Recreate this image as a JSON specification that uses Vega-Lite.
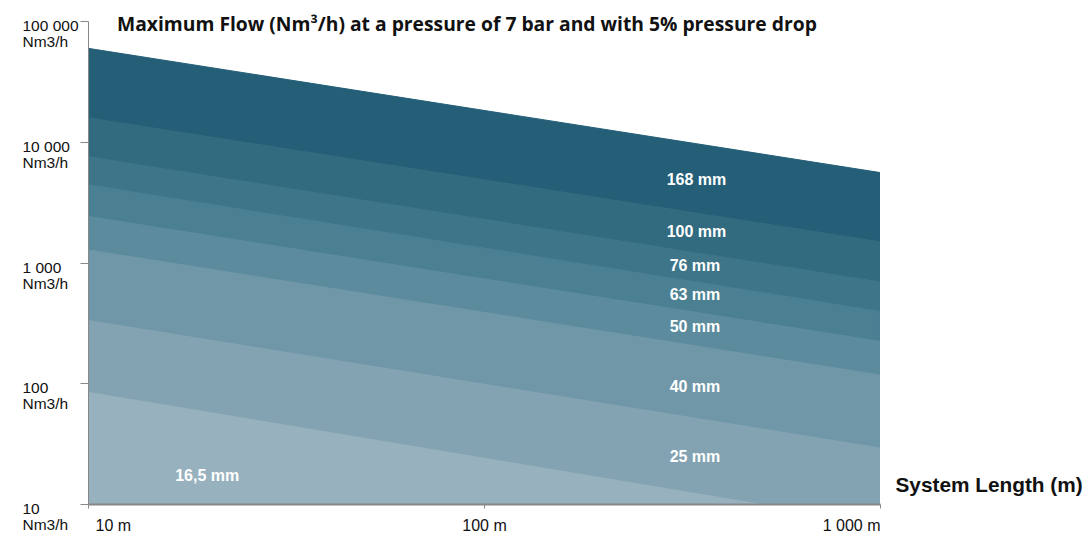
{
  "$schema": "https://vega.github.io/schema/vega-lite/v6.json",
  "autosize": {"type": "none"},
  "padding": {"left": 88, "top": 21, "right": 207, "bottom": 29},
  "width": 792,
  "height": 483,
  "background": "white",
  "view": {"stroke": null},
  "title": {
    "text": "Maximum Flow (Nm³/h) at a pressure of 7 bar and with 5% pressure drop",
    "anchor": "start",
    "frame": "group",
    "font": "Open Sans",
    "fontWeight": "bold",
    "fontSize": 19.3,
    "color": "#111111",
    "baseline": "alphabetic",
    "offset": 0,
    "dx": 29,
    "dy": 32
  },
  "datasets": {
    "bands": [
      {"size": "168 mm", "len": 10, "top": 59400, "bottom": 15780},
      {"size": "168 mm", "len": 1000, "top": 5560, "bottom": 1483},
      {"size": "100 mm", "len": 10, "top": 15780, "bottom": 7500},
      {"size": "100 mm", "len": 1000, "top": 1483, "bottom": 690},
      {"size": "76 mm", "len": 10, "top": 7500, "bottom": 4395},
      {"size": "76 mm", "len": 1000, "top": 690, "bottom": 393},
      {"size": "63 mm", "len": 10, "top": 4395, "bottom": 2410},
      {"size": "63 mm", "len": 1000, "top": 393, "bottom": 222},
      {"size": "50 mm", "len": 10, "top": 2410, "bottom": 1271},
      {"size": "50 mm", "len": 1000, "top": 222, "bottom": 117},
      {"size": "40 mm", "len": 10, "top": 1271, "bottom": 331},
      {"size": "40 mm", "len": 1000, "top": 117, "bottom": 29.1},
      {"size": "25 mm", "len": 10, "top": 331, "bottom": 84},
      {"size": "25 mm", "len": 1000, "top": 29.1, "bottom": 6.8},
      {"size": "16,5 mm", "len": 10, "top": 84, "bottom": 1},
      {"size": "16,5 mm", "len": 1000, "top": 6.8, "bottom": 1}
    ],
    "labels": [
      {"size": "168 mm", "len": 344, "flow": 4864},
      {"size": "100 mm", "len": 344, "flow": 1786},
      {"size": "76 mm", "len": 341, "flow": 931},
      {"size": "63 mm", "len": 341, "flow": 539},
      {"size": "50 mm", "len": 341, "flow": 290},
      {"size": "40 mm", "len": 341, "flow": 93},
      {"size": "25 mm", "len": 341, "flow": 24.5},
      {"size": "16,5 mm", "len": 20, "flow": 17.1}
    ]
  },
  "layer": [
    {
      "data": {"name": "bands"},
      "mark": {"type": "area", "clip": true, "strokeWidth": 1, "interpolate": "linear"},
      "encoding": {
        "x": {
          "field": "len",
          "type": "quantitative",
          "scale": {"type": "log", "domain": [10, 1000], "nice": false},
          "axis": {
            "zindex": 1,
            "values": [10, 100, 1000],
            "labelExpr": "datum.value == 1000 ? '1 000 m' : datum.value + ' m'",
            "labelFont": "Liberation Sans",
            "labelFontSize": 16,
            "labelColor": "#111111",
            "labelBaseline": "alphabetic",
            "labelPadding": 22,
            "labelFlush": false,
            "labelAlign": {"condition": [{"test": "datum.value == 10", "value": "left"}, {"test": "datum.value == 1000", "value": "right"}], "value": "center"},
            "labelOffset": {"condition": {"test": "datum.value == 10", "value": 7}, "value": 0},
            "tickSize": 4,
            "tickColor": "#888888",
            "tickWidth": 1,
            "domainColor": "#888888",
            "domainWidth": 2,
            "grid": false,
            "title": "System Length (m)",
            "titleFont": "Liberation Sans",
            "titleFontWeight": "bold",
            "titleFontSize": 20.8,
            "titleColor": "#111111",
            "titleAlign": "left",
            "titleBaseline": "alphabetic",
            "titleAnchor": "start",
            "titleX": 807,
            "titleY": -13
          }
        },
        "y": {
          "field": "top",
          "type": "quantitative",
          "scale": {"type": "log", "domain": [10, 100000], "nice": false},
          "axis": {
            "zindex": 1,
            "values": [10, 100, 1000, 10000, 100000],
            "labelExpr": "[replace(format(datum.value, ','), ',', ' '), 'Nm3/h']",
            "labelFont": "Liberation Sans",
            "labelFontSize": 15.5,
            "labelColor": "#111111",
            "labelAlign": "left",
            "labelBaseline": "alphabetic",
            "labelLineHeight": 16,
            "labelOffset": 9.5,
            "labelPadding": 58,
            "tickSize": 8,
            "tickColor": "#888888",
            "domainColor": "#888888",
            "domainWidth": 1,
            "grid": false,
            "title": null
          }
        },
        "y2": {"field": "bottom"},
        "color": {
          "field": "size",
          "type": "nominal",
          "scale": {
            "domain": ["168 mm", "100 mm", "76 mm", "63 mm", "50 mm", "40 mm", "25 mm", "16,5 mm"],
            "range": ["#245f77", "#326b7f", "#3e7588", "#4b7f92", "#5b8b9d", "#6f97a8", "#83a3b2", "#97b1be"]
          },
          "legend": null
        },
        "stroke": {
          "field": "size",
          "type": "nominal",
          "scale": {
            "domain": ["168 mm", "100 mm", "76 mm", "63 mm", "50 mm", "40 mm", "25 mm", "16,5 mm"],
            "range": ["#245f77", "#326b7f", "#3e7588", "#4b7f92", "#5b8b9d", "#6f97a8", "#83a3b2", "#97b1be"]
          },
          "legend": null
        }
      }
    },
    {
      "data": {"name": "labels"},
      "mark": {"type": "text", "font": "Liberation Sans", "fontWeight": "bold", "fontSize": 16, "color": "white", "align": "center", "baseline": "middle"},
      "encoding": {
        "x": {"field": "len", "type": "quantitative"},
        "y": {"field": "flow", "type": "quantitative"},
        "text": {"field": "size"}
      }
    }
  ]
}
